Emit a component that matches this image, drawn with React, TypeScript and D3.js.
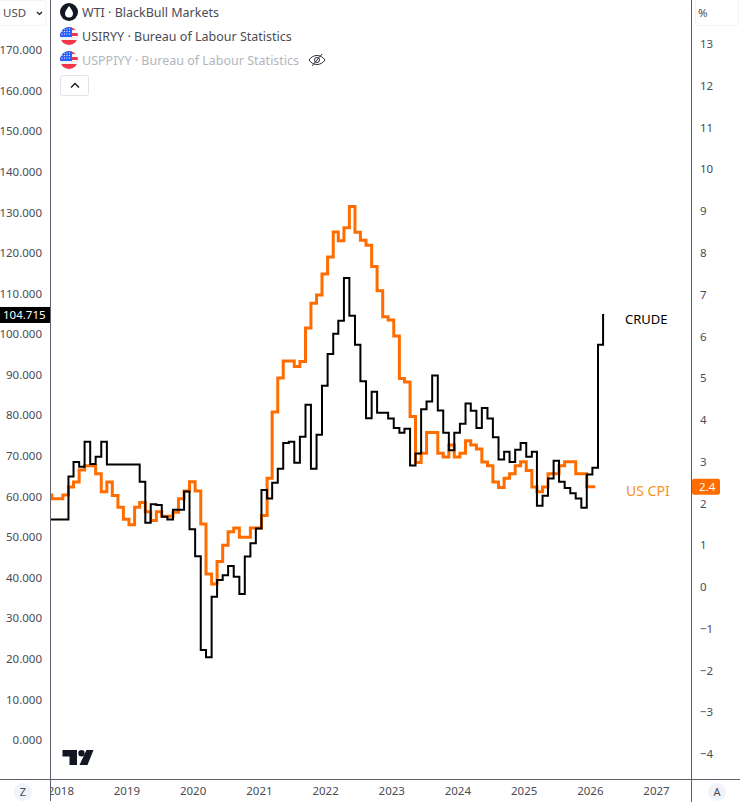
import React, { useEffect, useRef } from 'react';
import * as d3 from 'd3';

// months run from Sep 2017, each value holds until the next print
const startMonth = -4;
const crude = [
  54.3, 54.3, 54.3, 54.3, 64.9, 68.5, 67.3, 73.5, 68.0, 69.8, 73.5, 67.9, 67.9, 67.9, 67.9, 67.9, 67.9,
  63.6, 53.5, 58.1, 57.9, 55.0, 54.3, 56.7, 56.7, 61.2, 51.9, 45.3, 22.2, 20.4, 35.3, 39.4, 40.6, 42.9,
  40.2, 36.0, 45.2, 48.5, 52.1, 61.6, 59.5, 63.4, 66.8, 73.2, 73.5, 68.3, 74.7, 82.6, 66.8, 75.2, 87.3,
  95.1, 100.1, 103.3, 113.8, 104.5, 97.4, 88.4, 79.3, 85.8, 80.6, 80.6, 79.2, 76.9, 75.7, 76.7, 67.6,
  70.6, 81.5, 83.4, 89.8, 81.2, 75.7, 71.4, 75.7, 77.9, 82.9, 81.1, 76.9, 81.8, 79.2, 74.6, 69.1, 71.0,
  68.5, 71.5, 73.2, 69.8, 71.0, 57.7, 60.2, 64.4, 68.8, 63.6, 62.1, 60.8, 59.5, 57.2, 65.4, 67.1, 97.4,
  104.715,
];
const usCpi = [
  2.2, 2.11, 2.11, 2.2, 2.39, 2.51, 2.8, 2.9, 2.9, 2.71, 2.28, 2.51, 2.19, 1.91, 1.62, 1.49, 1.91, 2.02,
  1.8, 1.59, 1.8, 1.69, 1.69, 1.79, 2.11, 2.3, 2.52, 2.3, 1.51, 0.31, 0.07, 0.61, 1.0, 1.32, 1.41, 1.19,
  1.19, 1.41, 1.41, 1.71, 2.6, 4.19, 5.0, 5.41, 5.41, 5.28, 5.4, 6.2, 6.79, 6.99, 7.49, 7.9, 8.5, 8.29,
  8.6, 9.11, 8.49, 8.3, 8.18, 7.67, 7.09, 6.47, 6.39, 6.01, 4.99, 4.91, 4.08, 2.98, 3.2, 3.7, 3.7, 3.2,
  3.11, 3.4, 3.11, 3.2, 3.5, 3.4, 3.3, 2.99, 2.9, 2.51, 2.38, 2.6, 2.71, 2.9, 3.0, 2.79, 2.39, 2.28,
  2.39, 2.71, 2.71, 2.9, 3.0, 3.0, 2.71, 2.71, 2.4, 2.4,
];
const priceTicks = d3.range(0, 171, 10);
const percentTicks = d3.range(-4, 14, 1);
const yearTicks = d3.range(2018, 2028);
const legendRows = ['WTI · BlackBull Markets', 'USIRYY · Bureau of Labour Statistics', 'USPPIYY · Bureau of Labour Statistics'];

const width = 740;
const height = 802;
const plot = { left: 50, right: 691, bottom: 779 };
const font = '"Noto Sans", sans-serif';
const axisColor = '#5d606b';
const textColor = '#4a4c55';
const orange = '#ff6d00';

const xScale = d3.scaleUtc()
  .domain([new Date(Date.UTC(2018, 0, 1)), new Date(Date.UTC(2027, 0, 1))])
  .range([60.3, 656]);
const yPrice = d3.scaleLinear().domain([0, 170]).range([740, 50]);
const yPercent = d3.scaleLinear().domain([-4, 13]).range([754, 44]);

const monthDate = (i: number) => new Date(Date.UTC(2018, startMonth + i + 1, 15));

const App: React.FC = () => {
  const svgRef = useRef<SVGSVGElement | null>(null);

  useEffect(() => {
    if (!svgRef.current) return;
    const svg = d3.select(svgRef.current);
    svg.selectAll('*').remove();
    svg.attr('font-family', font);

    const defs = svg.append('defs');
    defs.append('clipPath').attr('id', 'plot-clip')
      .append('rect').attr('x', plot.left + 1).attr('y', 0)
      .attr('width', plot.right - plot.left - 1).attr('height', plot.bottom);
    defs.append('clipPath').attr('id', 'time-clip')
      .append('rect').attr('x', plot.left).attr('y', 0)
      .attr('width', plot.right - plot.left).attr('height', height - plot.bottom);
    defs.append('clipPath').attr('id', 'flag-clip')
      .append('circle').attr('cx', 0).attr('cy', 0).attr('r', 9);

    // Axes
    const priceAxis = svg.append('g')
      .attr('transform', `translate(${plot.left},0)`)
      .call(d3.axisLeft(yPrice).tickValues(priceTicks).tickSize(0).tickPadding(8)
        .tickFormat(d => d3.format('.3f')(d as number)));
    const percentAxis = svg.append('g')
      .attr('transform', `translate(${plot.right},0)`)
      .call(d3.axisRight(yPercent).tickValues(percentTicks).tickSize(0).tickPadding(9)
        .tickFormat(d => String(d).replace('-', '\u2212')));
    const timeAxis = svg.append('g')
      .attr('transform', `translate(0,${plot.bottom})`)
      .attr('clip-path', 'url(#time-clip)')
      .call(d3.axisBottom(xScale)
        .tickValues(yearTicks.map(y => new Date(Date.UTC(y, 0, 1))))
        .tickSize(0).tickPadding(8)
        .tickFormat(d => String((d as Date).getUTCFullYear())));
    [priceAxis, percentAxis, timeAxis].forEach(a => {
      a.select('.domain').remove();
      a.selectAll('text').attr('fill', textColor).attr('font-size', 11.5).attr('font-family', font);
    });

    // Series
    const lineGen = d3.line<[Date, number]>()
      .x(d => xScale(d[0]))
      .y(d => d[1])
      .curve(d3.curveStepAfter);
    const toPoints = (values: number[], y: (v: number) => number, tail: number): [Date, number][] => {
      const pts = values.map((v, i) => [monthDate(i), y(v)] as [Date, number]);
      const last = monthDate(values.length - 1);
      pts.push([new Date(last.getTime() + tail * 864e5), y(values[values.length - 1])]);
      return pts;
    };
    const lines = svg.append('g').attr('clip-path', 'url(#plot-clip)');
    lines.append('path')
      .attr('d', lineGen(toPoints(usCpi, yPercent, 16)))
      .attr('fill', 'none').attr('stroke', orange).attr('stroke-width', 3);
    lines.append('path')
      .attr('d', lineGen(toPoints(crude, yPrice, 6)))
      .attr('fill', 'none').attr('stroke', '#000').attr('stroke-width', 2);

    // Frame
    const frame = svg.append('g').attr('stroke', axisColor).attr('stroke-width', 1);
    frame.append('line').attr('x1', plot.left + 0.5).attr('x2', plot.left + 0.5).attr('y1', 0).attr('y2', plot.bottom + 22);
    frame.append('line').attr('x1', plot.right + 0.5).attr('x2', plot.right + 0.5).attr('y1', 0).attr('y2', height);
    frame.append('line').attr('x1', 0).attr('x2', width).attr('y1', plot.bottom + 0.5).attr('y2', plot.bottom + 0.5);

    // Annotations
    svg.append('text').attr('x', 625).attr('y', 324).attr('font-size', 13).attr('fill', '#000').text('CRUDE');
    svg.append('text').attr('x', 626).attr('y', 496).attr('font-size', 14).attr('fill', '#f7931e').text('US CPI');

    // Last value tags
    const lastCrude = crude[crude.length - 1];
    const lastCpi = usCpi[usCpi.length - 1];
    svg.append('rect').attr('x', 0).attr('y', yPrice(lastCrude) - 8).attr('width', plot.left).attr('height', 16).attr('fill', '#000');
    svg.append('text').attr('x', 3).attr('y', yPrice(lastCrude) + 4).attr('font-size', 11.5).attr('fill', '#fff')
      .text(d3.format('.3f')(lastCrude));
    svg.append('rect').attr('x', plot.right + 1).attr('y', yPercent(lastCpi) - 8).attr('width', 28).attr('height', 16).attr('rx', 2).attr('fill', orange);
    svg.append('text').attr('x', 699).attr('y', yPercent(lastCpi) + 4).attr('font-size', 11.5).attr('fill', '#fff')
      .text(d3.format('.1f')(lastCpi));

    // Legend
    const legendColors = ['#4a4c55', '#4a4c55', '#b2b5be'];
    legendRows.forEach((row, i) => {
      const y = 12 + i * 24;
      svg.append('text').attr('x', 82).attr('y', y + 4.5).attr('font-size', 12.5)
        .attr('fill', legendColors[i]).text(row);
      const icon = svg.append('g').attr('transform', `translate(69,${y})`);
      if (i === 0) {
        icon.append('circle').attr('r', 9).attr('fill', '#131722');
        icon.append('path').attr('d', 'M0,-6 C2,-3 4,-1 4,1.5 A4,4 0 0 1 -4,1.5 C-4,-1 -2,-3 0,-6Z').attr('fill', '#fff');
      } else {
        const flag = icon.append('g').attr('clip-path', 'url(#flag-clip)');
        flag.append('rect').attr('x', -9).attr('y', -9).attr('width', 18).attr('height', 18).attr('fill', '#f0f3fa');
        flag.append('rect').attr('x', -9).attr('y', -9).attr('width', 18).attr('height', 3).attr('fill', '#f23645');
        flag.append('rect').attr('x', -9).attr('y', -3).attr('width', 18).attr('height', 3).attr('fill', '#f23645');
        flag.append('rect').attr('x', -9).attr('y', 4).attr('width', 18).attr('height', 5).attr('fill', '#f23645');
        flag.append('rect').attr('x', -9).attr('y', -9).attr('width', 12).attr('height', 10).attr('fill', '#2962ff');
        d3.range(-7, 3, 2.5).forEach(sx => d3.range(-7, 0, 2.5).forEach(sy => {
          flag.append('circle').attr('cx', sx).attr('cy', sy).attr('r', 0.6).attr('fill', '#fff');
        }));
      }
    });

    // Hidden series eye
    const eye = svg.append('g').attr('transform', 'translate(317,60)').attr('fill', 'none').attr('stroke', '#2a2e39').attr('stroke-width', 1);
    eye.append('path').attr('d', 'M-8,0 C-4,-6 4,-6 8,0 C4,6 -4,6 -8,0Z');
    eye.append('circle').attr('r', 2.5);
    eye.append('line').attr('x1', -5).attr('y1', 6).attr('x2', 5).attr('y2', -6);

    // Collapse button
    svg.append('rect').attr('x', 60.5).attr('y', 75.5).attr('width', 28).attr('height', 20).attr('rx', 2)
      .attr('fill', '#fff').attr('stroke', '#e0e3eb');
    svg.append('path').attr('d', 'M71,87.5 L75,83.5 L79,87.5').attr('fill', 'none').attr('stroke', '#131722').attr('stroke-width', 1.4);

    // Currency and unit selectors
    svg.append('rect').attr('x', -2).attr('y', 0.5).attr('width', 48).attr('height', 25).attr('rx', 3)
      .attr('fill', '#fff').attr('stroke', '#f0f3fa');
    svg.append('text').attr('x', 3).attr('y', 17).attr('font-size', 11.5).attr('fill', textColor).text('USD');
    svg.append('path').attr('d', 'M37,12 L39.5,14.5 L42,12').attr('fill', 'none').attr('stroke', '#131722').attr('stroke-width', 1.2);
    svg.append('rect').attr('x', 695.5).attr('y', -2).attr('width', 43).attr('height', 27.5).attr('rx', 3)
      .attr('fill', '#fff').attr('stroke', '#f0f3fa');
    svg.append('text').attr('x', 698).attr('y', 17).attr('font-size', 11.5).attr('fill', textColor).text('%');

    // Bottom corner buttons
    [['Z', 23], ['A', 717]].forEach(([label, x]) => {
      svg.append('circle').attr('cx', x as number).attr('cy', 792).attr('r', 9).attr('fill', '#f0f3fa');
      svg.append('text').attr('x', x as number).attr('y', 796).attr('font-size', 11).attr('text-anchor', 'middle')
        .attr('fill', textColor).text(label as string);
    });

    // TradingView mark
    const logo = svg.append('g').attr('transform', 'translate(62.5,750)').attr('fill', '#131722');
    logo.append('path').attr('d', 'M0,0 H14.5 V15 H7 V6.5 H0Z');
    logo.append('circle').attr('cx', 19).attr('cy', 3.2).attr('r', 3.2);
    logo.append('path').attr('d', 'M24,0 H31 L25,15 H17Z');
  }, []);

  return (
    <svg
      ref={svgRef}
      width={width}
      height={height}
      style={{ position: 'absolute', left: 0, top: 0, background: '#fff' }}
    />
  );
};

export default App;
